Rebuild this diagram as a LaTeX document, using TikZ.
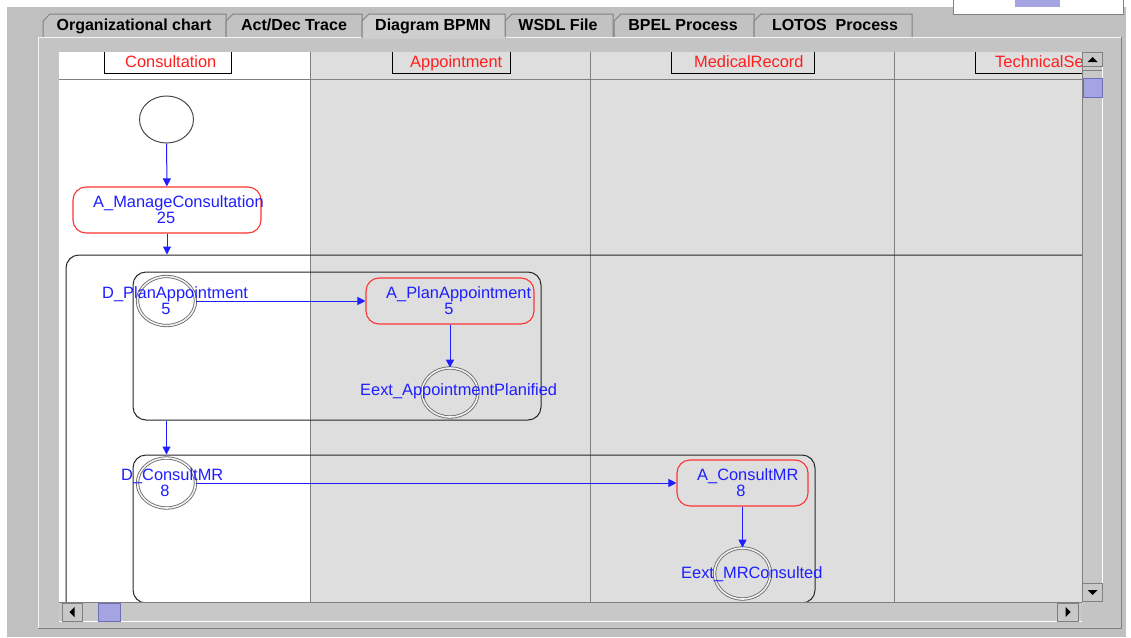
\documentclass[tikz,border=0pt]{standalone}
\usepackage{fontspec}
\setmainfont{Liberation Sans}
\usetikzlibrary{arrows.meta,shapes.geometric}
\definecolor{winbg}{RGB}{192,192,192}
\definecolor{panelbg}{RGB}{196,196,196}
\definecolor{tabbg}{RGB}{194,194,194}
\definecolor{tabsel}{RGB}{206,206,206}
\definecolor{lanegray}{RGB}{222,222,222}
\definecolor{sepgray}{RGB}{128,128,128}
\definecolor{txtblue}{RGB}{30,30,255}
\definecolor{txtred}{RGB}{255,30,30}
\definecolor{boxred}{RGB}{255,50,50}
\definecolor{thumbc}{RGB}{164,164,226}
\definecolor{thumbe}{RGB}{110,110,180}
\definecolor{ringc}{RGB}{100,100,100}
\definecolor{trackc}{RGB}{200,200,200}
\begin{document}
\begin{tikzpicture}[x=1pt,y=-1pt,
  tabshape/.style={fill=tabbg,draw=sepgray,line width=1pt},
  tablbl/.style={font=\fontsize{16}{18}\selectfont\bfseries,text=black,inner sep=0pt,anchor=base},
  lanehdr/.style={font=\fontsize{16.4}{18}\selectfont,text=txtred,inner sep=0pt,anchor=base west},
  lbl/.style={font=\fontsize{16.4}{18}\selectfont,text=txtblue,inner sep=0pt,anchor=base west},
  num/.style={font=\fontsize{16.4}{18}\selectfont,text=txtblue,inner sep=0pt,anchor=base},
  actbox/.style={draw=boxred,line width=1.1pt,rounded corners=13pt,rectangle,inner sep=0pt},
  groupbox/.style={draw=black!85,line width=1pt,rounded corners=13pt,rectangle,inner sep=0pt},
  startev/.style={draw=black!70,line width=1pt,ellipse,inner sep=0pt},
  dring/.style={draw=ringc,double=white!90!gray,double distance=1.6pt,line width=0.8pt,ellipse,inner sep=0pt},
  flow/.style={draw=txtblue,line width=1pt,-{Triangle[length=8pt,width=8pt]}},
  hdrline/.style={draw=black,line width=1pt},
  btn/.style={fill=trackc,draw=sepgray,line width=1pt},
]
\useasboundingbox (0,0) rectangle (1131,637);
\fill[white] (0,0) rectangle (1131,637);
\fill[winbg] (7,7) rectangle (1126,637);
% top-right box
\draw[fill=white,draw=sepgray,line width=1pt] (953,-2) rectangle (1123,14);
\fill[thumbc] (1015,0) rectangle (1060,7);
% tabs
\draw[tabshape] (43,37) -- (43,21) -- (50,14) -- (226,14) -- (226,37);
\draw[tabshape] (226,37) -- (226,21) -- (233,14) -- (362,14) -- (362,37);
\draw[tabshape] (505,37) -- (505,21) -- (512,14) -- (613,14) -- (613,37);
\draw[tabshape] (614,37) -- (614,21) -- (621,14) -- (754,14) -- (754,37);
\draw[tabshape] (754,37) -- (754,21) -- (761,14) -- (912,14) -- (912,37);
% panel
\fill[panelbg] (38,37) rectangle (1122,629);
\draw[white!92!gray,line width=1pt] (38.5,629) -- (38.5,37.5) -- (1122,37.5);
\draw[sepgray,line width=1pt] (1121.5,37) -- (1121.5,628.5) -- (38,628.5);
% selected tab
\draw[fill=tabsel,draw=sepgray,line width=1pt] (362,38) -- (362,21) -- (369,14) -- (505,14) -- (505,38);
\fill[tabsel] (363,36) rectangle (504.5,39);
\node[tablbl] (t1) at (134,30.5) {Organizational chart};
\node[tablbl] (t2) at (294,30.5) {Act/Dec Trace};
\node[tablbl] (t3) at (433,30.5) {Diagram BPMN};
\node[tablbl] (t4) at (558,30.5) {WSDL File};
\node[tablbl] (t5) at (683,30.5) {BPEL Process};
\node[tablbl] (t6) at (835,30.5) {LOTOS\ \ Process};
% viewport
\fill[white] (59,52) rectangle (310,602);
\fill[lanegray] (310,52) rectangle (1082,602);
\begin{scope}
\clip (59,52) rectangle (1082,602);
\draw[sepgray,line width=1pt] (310,52) -- (310,602);
\draw[sepgray,line width=1pt] (590,52) -- (590,602);
\draw[sepgray,line width=1pt] (894,52) -- (894,602);
\draw[sepgray,line width=1pt] (59,79) -- (1082,79);
\draw[hdrline] (104,51) -- (104,73) -- (231,73) -- (231,51);
\draw[hdrline] (392,51) -- (392,73) -- (510,73) -- (510,51);
\draw[hdrline] (671,51) -- (671,73) -- (814,73) -- (814,51);
\draw[hdrline] (975,51) -- (975,73) -- (1090,73);
\node[lanehdr] (h1) at (125,67.5) {Consultation};
\node[lanehdr] (h2) at (410,67.5) {Appointment};
\node[lanehdr] (h3) at (694,67.5) {MedicalRecord};
\node[lanehdr] (h4) at (995,67.5) {TechnicalSe};
% containers
\node[groupbox,minimum width=1074,minimum height=445] (big) at (603,477.5) {};
\node[groupbox,minimum width=408,minimum height=148] (g1) at (337,346) {};
\node[groupbox,minimum width=682,minimum height=148] (g2) at (474,529) {};
% start
\node[startev,minimum width=54,minimum height=47] (start) at (166.5,119.5) {};
% manage consultation
\node[actbox,minimum width=188,minimum height=46] (mc) at (167,210) {};
\node[lbl] (mct) at (93,207.5) {A\_ManageConsultation};
\node[num] (mcn) at (166,223.5) {25};
% plan appointment
\node[dring,minimum width=58,minimum height=49] (dpa) at (166.5,301) {};
\node[lbl] (dpat) at (102,298.5) {D\_PlanAppointment};
\node[num] (dpan) at (166,314.5) {5};
\node[actbox,minimum width=168,minimum height=46] (apa) at (450,301) {};
\node[lbl] (apat) at (386,298.5) {A\_PlanAppointment};
\node[num] (apan) at (449,314.5) {5};
\node[dring,minimum width=56,minimum height=49] (epa) at (450,392.5) {};
\node[lbl] (epat) at (360,395.5) {Eext\_AppointmentPlanified};
% consult MR
\node[dring,minimum width=58,minimum height=50] (dcm) at (166.5,483) {};
\node[lbl] (dcmt) at (121,480.5) {D\_ConsultMR};
\node[num] (dcmn) at (165,496.5) {8};
\node[actbox,minimum width=131,minimum height=46] (acm) at (742.5,483) {};
\node[lbl] (acmt) at (697,480.5) {A\_ConsultMR};
\node[num] (acmn) at (741,496.5) {8};
\node[dring,minimum width=56,minimum height=51] (ecm) at (742.5,573.5) {};
\node[lbl] (ecmt) at (681,578.5) {Eext\_MRConsulted};
% flows
\draw[flow] (start) -- (mc);
\draw[flow] (mc.south) -- (mc.south |- big.north);
\draw[flow] (dpa) -- (apa);
\draw[flow] (apa) -- (epa);
\draw[flow] (g1.south -| dpa.center) -- (g2.north -| dpa.center);
\draw[flow] (dcm) -- (acm);
\draw[flow] (acm) -- (ecm);
\end{scope}
% vertical scrollbar
\fill[trackc] (1082,52) rectangle (1103,602);
\draw[sepgray,line width=1pt] (1082.5,52) -- (1082.5,602);
\draw[white,line width=1pt] (1102.5,52) -- (1102.5,602);
\draw[btn] (1082.5,52.5) rectangle (1102.5,66);
\draw[sepgray,line width=1pt] (1083,70.5) -- (1102,70.5);
\fill[black] (1087.5,62) -- (1097.5,62) -- (1092.5,57) -- cycle;
\draw[fill=thumbc,draw=thumbe,line width=1pt] (1083,78) rectangle (1102,97);
\draw[btn] (1082.5,583) rectangle (1102.5,601);
\fill[black] (1087.5,590) -- (1097.5,590) -- (1092.5,595) -- cycle;
% horizontal scrollbar
\fill[trackc] (59,602) rectangle (1082,622);
\draw[sepgray,line width=1pt] (59,602.5) -- (1082,602.5);
\draw[white,line width=1pt] (59,621.5) -- (1082,621.5);
\draw[btn] (62,603) rectangle (82,621.5);
\fill[black] (74.5,607) -- (74.5,617) -- (69.5,612) -- cycle;
\draw[fill=thumbc,draw=thumbe,line width=1pt] (98,603) rectangle (120,621);
\draw[btn] (1057,603) rectangle (1078,621.5);
\fill[black] (1065.5,607) -- (1065.5,617) -- (1070.5,612) -- cycle;
\fill[panelbg] (1082,602) rectangle (1104,623);
\end{tikzpicture}
\end{document}
